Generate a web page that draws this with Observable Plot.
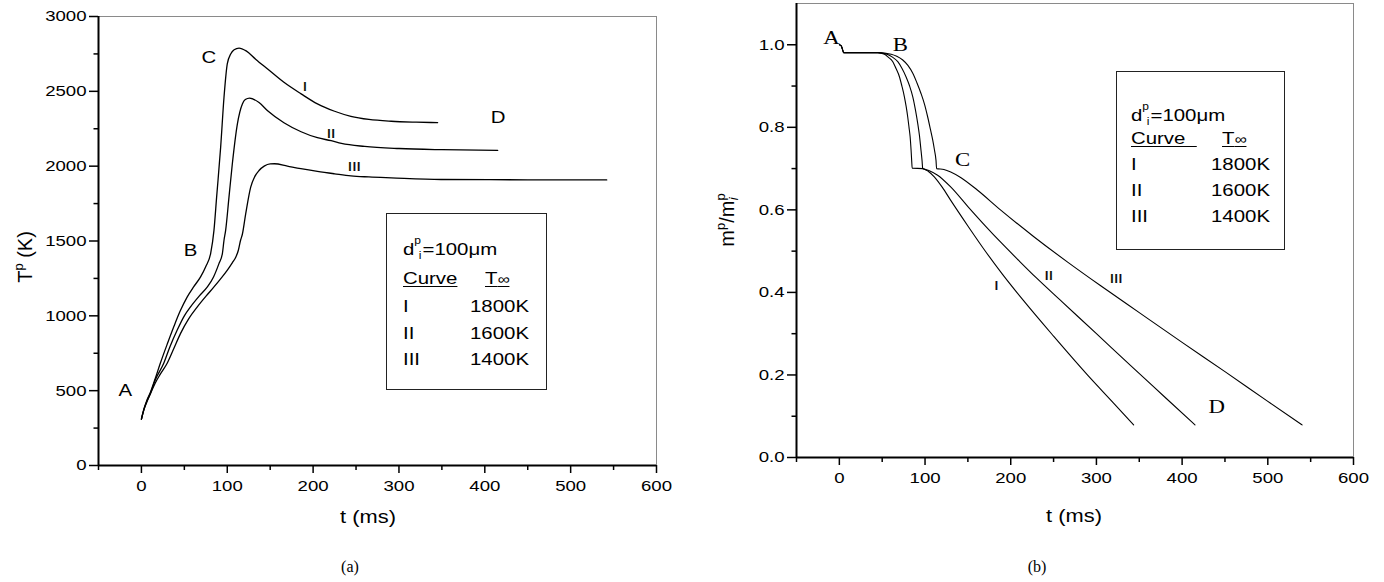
<!DOCTYPE html>
<html><head><meta charset="utf-8">
<script src="https://cdn.jsdelivr.net/npm/d3@7"></script>
<script src="https://cdn.jsdelivr.net/npm/@observablehq/plot@0.6"></script>
<style>
body{margin:0;background:#fff;}
#wrap{position:relative;width:1384px;height:582px;overflow:hidden;font-family:"Liberation Sans",Arial,sans-serif;color:#000;}
.panel{position:absolute;top:0;}
.legend{position:absolute;border:1px solid #222;box-sizing:border-box;}
.lt{position:absolute;font-size:17px;line-height:1;white-space:pre;transform:scaleX(1.2);transform-origin:0 0;}
.sup,.sub{font-size:10px;line-height:10px;display:inline-block;vertical-align:top;}
.sup{transform:translateY(-5px);}
.sub{transform:translateY(10px);margin-left:-2px;margin-right:1px;}
.ul{text-decoration:underline;text-decoration-thickness:1px;text-underline-offset:2px;}
.cap{position:absolute;width:100px;text-align:center;font-family:"Liberation Serif","Times New Roman",serif;font-size:16px;line-height:1;}
</style></head><body><div id="wrap"></div><script>
// ---------- data: panel (a) particle temperature T^p (K) vs t (ms) ----------
const tempI = [[0,310],[3,380],[6,430],[10.5,490],[16,580],[22,683],[30,810],[37.7,927],[45,1030],[53.4,1127],[61,1195],[68.9,1260],[75,1330],[80.6,1416],[84.5,1571],[87.6,1793],[92.3,2127],[96.2,2460],[100,2683],[104,2749],[108,2778],[113.7,2789],[122,2770],[133,2715],[147,2649],[166,2560],[186,2483],[205,2416],[225,2367],[244,2333],[265,2312],[291,2300],[320,2294],[345,2291]];
const tempII = [[0,310],[3,375],[6,425],[10.5,483],[16,570],[26,683],[33,790],[41.7,905],[50,1000],[57.2,1060],[67,1130],[76.8,1193],[84,1260],[90.3,1349],[94.3,1416],[96.2,1505],[98.1,1571],[102,1793],[105.9,2016],[111.8,2283],[117.6,2416],[121,2445],[126,2455],[137,2425],[147,2370],[166,2290],[186,2230],[205,2190],[221,2170],[233,2152],[260,2132],[300,2118],[350,2110],[415,2105]];
const tempIII = [[0,310],[3,375],[6,420],[10.5,480],[16,550],[22,610],[30,683],[38,785],[45.6,883],[55,980],[65.1,1060],[75,1130],[84.5,1193],[92,1245],[100.1,1305],[106,1355],[110,1393],[113,1440],[115.5,1505],[117.6,1545],[121.5,1683],[127.3,1860],[132,1930],[137,1971],[143,2000],[150,2015],[155,2016],[170,2000],[185.7,1983],[205,1965],[225,1949],[244,1935],[265,1928],[291,1922],[349,1911],[450,1909],[542,1908]];

// ---------- data: panel (b) mass ratio m^p/m^p_i vs t (ms) ----------
const massStart = [[0,1.0],[2,0.998],[3.5,0.99],[5,0.981],[45,0.981]];
const massI = [[52.7,0.977],[57,0.970],[62.4,0.959],[66,0.943],[70.2,0.922],[73,0.90],[75.9,0.874],[78,0.85],[79.8,0.825],[81.3,0.80],[82.6,0.777],[83.7,0.745],[84.5,0.716],[85,0.701],[97.3,0.700],[104,0.693],[110.8,0.680],[120,0.655],[130,0.623],[150,0.561],[170,0.501],[190,0.445],[215,0.380],[250,0.294],[290,0.199],[320,0.132],[343.4,0.079]];
const massII = [[55.6,0.977],[62,0.970],[68.2,0.959],[73,0.943],[77.9,0.922],[82,0.90],[85.7,0.874],[89,0.84],[91.5,0.809],[93.5,0.78],[95.3,0.744],[96.5,0.72],[97.3,0.70],[105,0.695],[114.7,0.684],[130.2,0.655],[150,0.608],[170,0.562],[190,0.518],[210,0.476],[230,0.435],[260,0.377],[300,0.300],[340,0.2225],[380,0.146],[415,0.079]];
const massIII = [[60.5,0.977],[67,0.972],[74,0.963],[80,0.95],[85.7,0.931],[90.5,0.908],[95.3,0.882],[99.5,0.855],[103.1,0.825],[106.3,0.795],[109,0.769],[111,0.745],[112.8,0.72],[113.5,0.70],[122,0.698],[130,0.692],[142,0.678],[161,0.648],[188,0.600],[227,0.535],[266,0.474],[305,0.416],[350,0.351],[400,0.279],[450,0.208],[500,0.136],[540,0.079]];

// ---------- ticks ----------
const xTicks = [0,100,200,300,400,500,600];
const xMinor = [-50,50,150,250,350,450,550];
const yTicksA = [0,500,1000,1500,2000,2500,3000];
const yMinorA = [250,750,1250,1750,2250,2750];
const yTicksB = [0,0.2,0.4,0.6,0.8,1.0];
const yMinorB = [0.1,0.3,0.5,0.7,0.9];

// ---------- annotations ----------
const stageLabelsA = [{t:-18.7,v:498,s:"A"},{t:57.2,v:1438,s:"B"},{t:78.6,v:2723,s:"C"},{t:415.5,v:2327,s:"D"}];
const curveLabelsA = [{t:190.4,v:2527,s:"I"},{t:220.8,v:2216,s:"II"},{t:248,v:1993,s:"III"}];
const stageLabelsB = [{t:-9.3,v:1.0155,s:"A"},{t:71.3,v:0.999,s:"B"},{t:143.8,v:0.720,s:"C"},{t:440.3,v:0.123,s:"D"}];
const curveLabelsB = [{t:183.3,v:0.417,s:"I"},{t:244.5,v:0.441,s:"II"},{t:323,v:0.433,s:"III"}];

// ---------- legend ----------
const legendTitle = "=100\u03BCm";
const legendCurves = ["I","II","III"];
const legendTemps = ["1800K","1600K","1400K"];

const SANS = "'Liberation Sans', Arial, sans-serif";
const SERIF = "'Liberation Serif', 'Times New Roman', serif";
const S = 1.2;

const rows = (arr, curve) => arr.map(([t, v]) => ({t, v, curve}));
const tempRows = [...rows(tempI,"I"), ...rows(tempII,"II"), ...rows(tempIII,"III")];
const massRows = [...rows([...massStart,...massI],"I"), ...rows([...massStart,...massII],"II"), ...rows([...massStart,...massIII],"III")];

function axes(yT, yM, fmt) {
  return [
    Plot.frame({stroke: "#8a8a8a", strokeWidth: 1}),
    Plot.axisY({ticks: yT, tickSize: 9, tickPadding: 3, tickFormat: fmt, fontSize: 15.5, fill: "#000", label: null, strokeWidth: 1.5}),
    Plot.axisY({ticks: yM, tickSize: 4.5, tickFormat: () => "", label: null, strokeWidth: 1.5}),
    Plot.axisX({ticks: xTicks, tickSize: 8, tickPadding: 6, fontSize: 15.5, fill: "#000", label: null, strokeWidth: 1.5}),
    Plot.axisX({ticks: xMinor, tickSize: 5, tickFormat: () => "", label: null, strokeWidth: 1.5})
  ];
}

const numeralStyle = {x: "t", y: "v", text: "s", fontSize: 13, fontFamily: SANS, fill: "#000", stroke: "#000", strokeWidth: 0.25};

const plotA = Plot.plot({
  width: 690, height: 582,
  marginLeft: 98, marginRight: 34, marginTop: 16, marginBottom: 117,
  x: {domain: [-50, 600], label: null},
  y: {domain: [0, 3000], label: null},
  style: {fontFamily: SANS, color: "#000", background: "transparent", overflow: "visible"},
  marks: [
    ...axes(yTicksA, yMinorA, d3.format("d")),
    Plot.ruleX([-50], {strokeWidth: 2}),
    Plot.ruleY([0], {strokeWidth: 2}),
    Plot.line(tempRows, {x: "t", y: "v", z: "curve", curve: "monotone-x", stroke: "#000", strokeWidth: 1.3}),
    Plot.text(stageLabelsA, {x: "t", y: "v", text: "s", fontSize: 17, fontFamily: SANS, fill: "#000"}),
    Plot.text(curveLabelsA, numeralStyle)
  ]
});

const plotB = Plot.plot({
  width: 694, height: 582,
  marginLeft: 106, marginRight: 31, marginTop: 3, marginBottom: 125,
  x: {domain: [-50, 600], label: null},
  y: {domain: [0, 1.1], label: null},
  style: {fontFamily: SANS, color: "#000", background: "transparent", overflow: "visible"},
  marks: [
    ...axes(yTicksB, yMinorB, d3.format(".1f")),
    Plot.ruleX([-50], {strokeWidth: 2}),
    Plot.ruleY([0], {strokeWidth: 2}),
    Plot.line(massRows, {x: "t", y: "v", z: "curve", curve: "monotone-x", stroke: "#000", strokeWidth: 1.1}),
    Plot.text(stageLabelsB, {x: "t", y: "v", text: "s", fontSize: 19, fontFamily: SERIF, fill: "#000"}),
    Plot.text(curveLabelsB, numeralStyle)
  ]
});

function stretch(svg, s) {
  svg.querySelectorAll("text").forEach(t => {
    const x = +t.getAttribute("x") || 0;
    const tr = t.getAttribute("transform") || "";
    t.setAttribute("transform", `${tr} translate(${x},0) scale(${s},1) translate(${-x},0)`);
  });
}
stretch(plotA, S);
stretch(plotB, S);

const wrap = document.getElementById("wrap");
[[plotA, 0], [plotB, 690]].forEach(([svg, left]) => {
  svg.classList.add("panel");
  svg.style.left = left + "px";
  wrap.appendChild(svg);
});

// axis titles
function xTitle(svg, cx, cy) {
  d3.select(svg).append("text")
    .attr("transform", `translate(${cx},${cy}) scale(1.15,1)`)
    .attr("text-anchor", "middle").attr("dominant-baseline", "central")
    .attr("font-family", SANS).attr("font-size", 19).attr("fill", "#000").text("t (ms)");
}
xTitle(plotA, 368, 516);
xTitle(plotB, 384, 515);

const ta = d3.select(plotA).append("text")
  .attr("transform", "translate(25,257) rotate(-90)")
  .attr("text-anchor", "middle").attr("dominant-baseline", "central")
  .attr("font-family", SANS).attr("font-size", 20).attr("fill", "#000");
ta.append("tspan").text("T");
ta.append("tspan").attr("dy", -7).attr("font-size", 13).text("p");
ta.append("tspan").attr("dy", 7).text(" (K)");

const tb = d3.select(plotB).append("text")
  .attr("transform", "translate(37,220) rotate(-90)")
  .attr("text-anchor", "middle").attr("dominant-baseline", "central")
  .attr("font-family", SANS).attr("font-size", 20).attr("fill", "#000");
tb.append("tspan").text("m");
tb.append("tspan").attr("dy", -7).attr("font-size", 13).text("p");
tb.append("tspan").attr("dy", 7).text("/m");
tb.append("tspan").attr("dy", -7).attr("font-size", 13).text("p");
tb.append("tspan").attr("dy", 13).attr("dx", -7).attr("font-size", 13).attr("font-style", "italic").text("i");

// legends
function legend(box) {
  const el = document.createElement("div");
  el.className = "legend";
  Object.assign(el.style, {left: box.left + "px", top: box.top + "px", width: box.w + "px", height: box.h + "px"});
  const add = (html, x, base) => {
    const d = document.createElement("div");
    d.className = "lt";
    d.style.left = x + "px";
    d.style.top = (base - 14.4) + "px";
    d.innerHTML = html;
    el.appendChild(d);
  };
  add(`d<span class="sup">p</span><span class="sub">i</span>${legendTitle}`, box.c1, box.b[0]);
  add(`<span class="ul">Curve${box.pad}</span>`, box.c1, box.b[1]);
  add(`<span class="ul">T<span style="font-size:14px">\u221E</span></span>`, box.c3, box.b[1]);
  legendCurves.forEach((c, i) => {
    add(c, box.c1, box.b[i + 2]);
    add(legendTemps[i], box.c2, box.b[i + 2]);
  });
  wrap.appendChild(el);
}
legend({left: 386, top: 213, w: 161, h: 177, c1: 16, c2: 83, c3: 98, b: [41, 70, 98, 125, 151], pad: ""});
legend({left: 1116, top: 71, w: 169, h: 179, c1: 14, c2: 94, c3: 105, b: [49, 72, 98, 124, 150], pad: "\u00A0\u00A0"});

// captions
[["(a)", 350], ["(b)", 1037]].forEach(([s, cx]) => {
  const d = document.createElement("div");
  d.className = "cap";
  d.style.left = (cx - 50) + "px";
  d.style.top = "559px";
  d.textContent = s;
  wrap.appendChild(d);
});
</script></body></html>
